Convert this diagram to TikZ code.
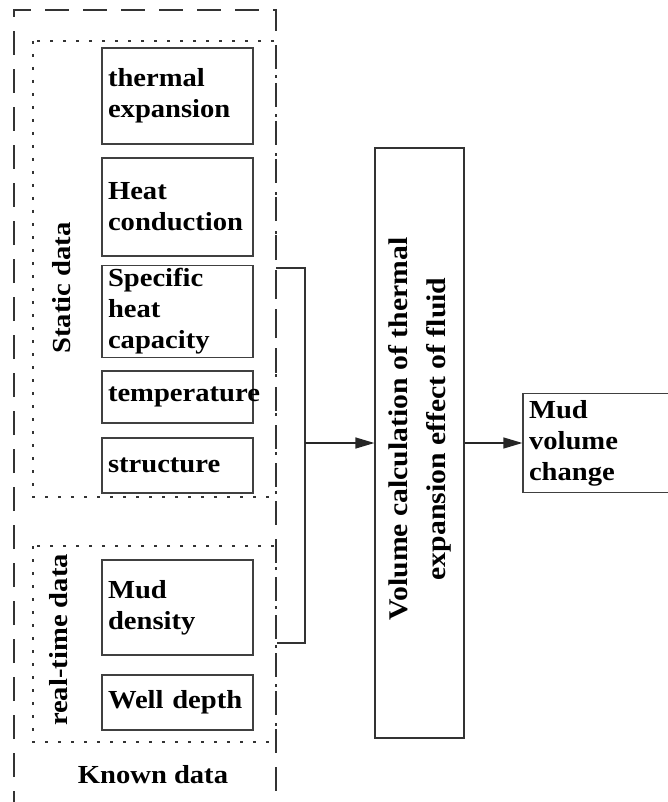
\documentclass[tikz,border=0pt]{standalone}
\usepackage{fontspec}
\setmainfont{Liberation Serif}[FakeStretch=1.1]
\usepackage{tikz}
\usetikzlibrary{arrows,arrows.meta,positioning}
\tikzset{
    %Define standard arrow tip
    >={Triangle[length=19pt,width=11pt]},
    % Define arrow style
    pil/.style={
           ->,
           line width=1.3pt,
           black!85,}
}

\begin{document}
\begin{tikzpicture}[
x=1pt, y=-1pt,
font=\fontsize{26}{31}\selectfont\bfseries,
databox/.style={rectangle, draw=black!75, line width=1.3pt, minimum width=151pt,
    text width=139pt, inner xsep=6pt, align=left},
outerline/.style={draw=black!80, line width=1.6pt, dash pattern=on 24pt off 14pt},
dotline/.style={draw=black!80, line width=1.8pt, dash pattern=on 3pt off 10pt},
]
\useasboundingbox (0,0) rectangle (667,802);

%Frames
\draw[outerline] (14,815) -- (14,10) -- (276,10) -- (276,815);
\draw[dotline] (33,41) rectangle (276,497);
\draw[dotline] (33,546) rectangle (276,742);

%Static data
\node[databox, minimum height=96pt](te) at (177.5,96){thermal\\expansion};
\node[databox, minimum height=98pt](hc) at (177.5,207){Heat\\conduction};
\node[databox, minimum height=85pt](shc) at (177.5,311.5){Specific\\heat\\capacity};
\node[databox, minimum height=52pt](temp) at (177.5,397){temperature};
\node[databox, minimum height=55pt](str) at (177.5,465.5){structure};
\node[rotate=90](sd) at (62,288){Static data};

%Real-time data
\node[databox, minimum height=95pt](md) at (177.5,607.5){Mud\\density};
\node[databox, minimum height=55pt](wd) at (177.5,702.5){Well depth};
\node[rotate=90](rd) at (59,640){real-time data};

\node(kd) at (153,775){Known data};

%Calculation and result
\node[rectangle, draw=black!80, line width=1.2pt, rotate=90, align=center,
      font=\fontsize{27}{38}\selectfont\bfseries,
      minimum width=590pt, minimum height=89pt](vc) at (419.5,443)
      {\hspace*{28pt}Volume calculation of thermal\\\hspace*{28pt}expansion effect of fluid};
\node[rectangle, draw=black!75, line width=1.3pt, minimum width=152pt, minimum height=99pt,
      text width=140pt, inner xsep=6pt, align=left](mvc) at (599,443)
      {Mud\\volume\\change};

%Connectors
\coordinate (b1) at (276,268);
\coordinate (b2) at (305,268);
\coordinate (b3) at (305,643);
\coordinate (b4) at (277,643);
\coordinate (bm) at (305,443);
\draw[black!80, line width=1.2pt] (b1) -- (b2) -- (b3) -- (b4);
\draw[pil] (bm) -- (vc);
\draw[pil] (vc) -- (mvc);

\end{tikzpicture}
\end{document}
